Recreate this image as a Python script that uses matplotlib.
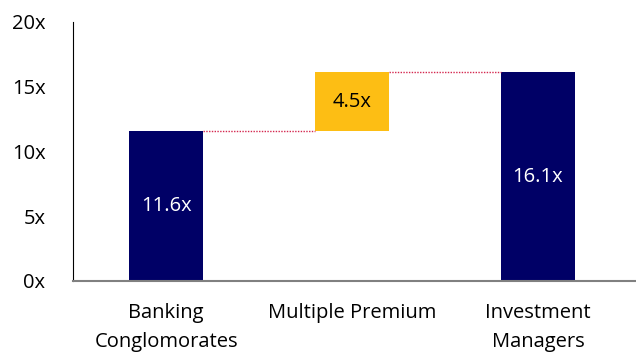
import matplotlib.pyplot as plt

plt.rcParams['font.family'] = ['Open Sans', 'DejaVu Sans']

categories = ['Banking\nConglomorates', 'Multiple Premium', 'Investment\nManagers']
starts = [0, 11.6, 0]
heights = [11.6, 4.5, 16.1]
labels = ['11.6x', '4.5x', '16.1x']
colors = ['#000066', '#FDBE14', '#000066']
text_colors = ['white', 'black', 'white']
yticks = [0, 5, 10, 15, 20]

fig = plt.figure(figsize=(6.36, 3.53), dpi=100)
ax = fig.add_axes([0.115, 0.204, 0.877, 0.734])

x = range(len(categories))
w = 0.4
ax.bar(x, heights, bottom=starts, width=w, color=colors)

for i in x:
    ax.text(i, starts[i] + heights[i] / 2, labels[i], ha='center', va='center',
            color=text_colors[i], fontsize=14.5)

# dotted connectors between the bar tops
for i in range(len(categories) - 1):
    level = starts[i] + heights[i]
    ax.plot([i + w / 2, i + 1 - w / 2], [level, level], color='#d4284f',
            linestyle=(0, (1, 1)), linewidth=1)

ax.set_xlim(-0.5, 2.5)
ax.set_ylim(0, 20)
ax.set_xticks(list(x))
ax.set_xticklabels(categories, fontsize=14.5, linespacing=1.6)
ax.set_yticks(yticks)
ax.set_yticklabels([f'{t}x' for t in yticks], fontsize=14.5)
ax.tick_params(length=0)
ax.tick_params(axis='y', pad=20)
ax.tick_params(axis='x', pad=16)

ax.spines['top'].set_visible(False)
ax.spines['right'].set_visible(False)
ax.spines['left'].set_color('black')
ax.spines['bottom'].set_color('#808080')
ax.spines['bottom'].set_linewidth(1.5)
ax.spines['bottom'].set_bounds(-0.5, 2.53)

fig.savefig('out.png', dpi=100)
